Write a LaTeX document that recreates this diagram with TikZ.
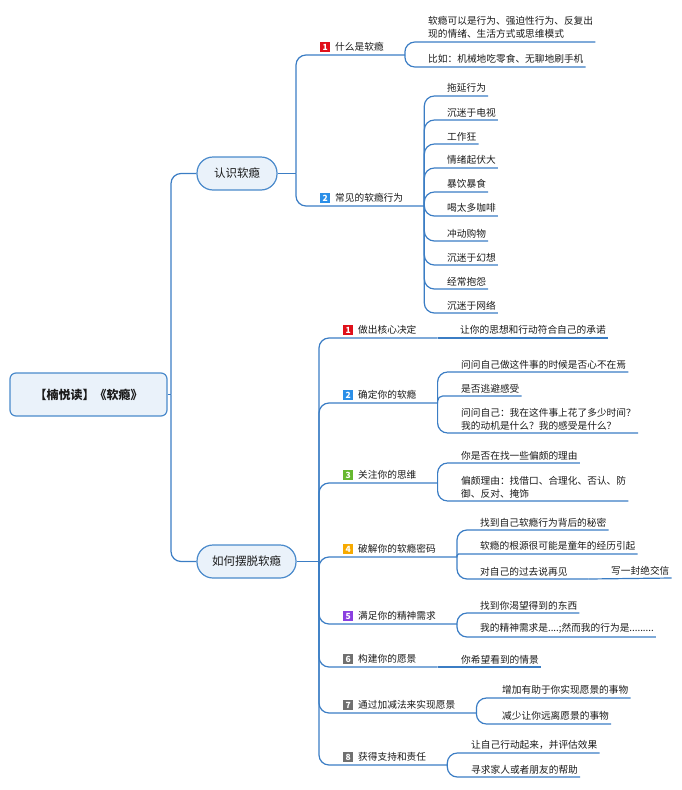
\documentclass[tikz,border=0pt]{standalone}
\usepackage{fontspec}
\setmainfont{Noto Sans CJK SC}
\usepackage{tikz}
\usetikzlibrary{positioning}
\usepackage{xcolor}
\definecolor{wire}{HTML}{3B7DC4}
\definecolor{rim}{HTML}{4A8ACB}
\definecolor{pale}{HTML}{EAF2FA}
\definecolor{ink}{HTML}{1A1A1A}
\definecolor{tagred}{HTML}{E0101A}
\definecolor{tagblue}{HTML}{2B8FE8}
\definecolor{taggreen}{HTML}{66B82F}
\definecolor{tagorange}{HTML}{F7AA00}
\definecolor{tagpurple}{HTML}{8A3FE0}
\definecolor{taggrey}{HTML}{707070}

\newcommand{\numtag}[2]{{\setlength{\fboxsep}{1.5pt}\colorbox{#1}{\makebox[7pt]{\rule{0pt}{7pt}\color{white}\bfseries\fontsize{8.5}{8.5}\selectfont #2}}}\hspace{5pt}}

\begin{document}
\begin{tikzpicture}[
  x=1pt, y=-1pt,
  rootbox/.style={draw=rim, fill=pale, line width=1.2pt, rounded corners=6pt, text=ink,
                  font=\fontsize{12}{14}\selectfont\bfseries, minimum width=157pt, minimum height=43pt},
  mainbox/.style={draw=rim, fill=pale, line width=1.2pt, rounded corners=16pt, text=ink,
                  font=\fontsize{11.5}{14}\selectfont, minimum height=33pt},
  topic/.style={anchor=south west, inner xsep=2pt, inner ysep=3pt, text=ink,
                font=\fontsize{9.7}{13}\selectfont, execute at end node=\hspace{19pt}},
  leaf/.style={anchor=south west, inner xsep=2pt, inner ysep=3pt, text=ink,
               font=\fontsize{9.7}{13}\selectfont},
  hasnext/.style={execute at end node=\hspace{19pt}},
  link/.style={draw=wire, line width=1.2pt, rounded corners=10pt}
]
  \useasboundingbox (0,0) rectangle (682,790);

  % root and main branches
  \node[rootbox] (root) at (88.5,394.5) {【楠悦读】《软瘾》};
  \node[mainbox, minimum width=80pt] (know) at (237,173.5) {认识软瘾};
  \node[mainbox, minimum width=99pt] (escape) at (246.5,561.5) {如何摆脱软瘾};

  \coordinate (hub) at (171,394.5);
  \draw[link] (root.east) -- (hub);
  \draw[link] (hub) |- (know.west);
  \draw[link] (hub) |- (escape.west);

  % 认识软瘾
  \coordinate (hub1) at (296,173.5);
  \node[topic] (whatis) at (318,55) {\numtag{tagred}{1}什么是软瘾};
  \node[topic] (common) at (318,206) {\numtag{tagblue}{2}常见的软瘾行为};
  \draw[link] (know.east) -- (hub1);
  \draw[link] (hub1) |- (whatis.south east);
  \draw[link] (hub1) |- (common.south east);

  \node[leaf, align=left] (define) at (426,42) {软瘾可以是行为、强迫性行为、反复出\\现的情绪、生活方式或思维模式};
  \node[leaf] (example) at (426,67) {比如：机械地吃零食、无聊地刷手机};
  \draw[link] (whatis.south east) |- (define.south east);
  \draw[link] (whatis.south east) |- (example.south east);

  \node[leaf] (delay) at (445,96) {拖延行为};
  \node[leaf] (tv) at (445,120) {沉迷于电视};
  \node[leaf] (work) at (445,144) {工作狂};
  \node[leaf] (mood) at (445,168) {情绪起伏大};
  \node[leaf] (binge) at (445,192) {暴饮暴食};
  \node[leaf] (coffee) at (445,216) {喝太多咖啡};
  \node[leaf] (shop) at (445,241) {冲动购物};
  \node[leaf] (dream) at (445,265) {沉迷于幻想};
  \node[leaf] (moan) at (445,289) {经常抱怨};
  \node[leaf] (web) at (445,313) {沉迷于网络};
  \draw[link] (common.south east) |- (delay.south east);
  \draw[link] (common.south east) |- (tv.south east);
  \draw[link] (common.south east) |- (work.south east);
  \draw[link] (common.south east) |- (mood.south east);
  \draw[link] (common.south east) |- (binge.south east);
  \draw[link] (common.south east) |- (coffee.south east);
  \draw[link] (common.south east) |- (shop.south east);
  \draw[link] (common.south east) |- (dream.south east);
  \draw[link] (common.south east) |- (moan.south east);
  \draw[link] (common.south east) |- (web.south east);

  % 如何摆脱软瘾
  \coordinate (hub2) at (319,561.5);
  \node[topic] (decide) at (341,338) {\numtag{tagred}{1}做出核心决定};
  \node[topic] (identify) at (341,403) {\numtag{tagblue}{2}确定你的软瘾};
  \node[topic] (watch) at (341,483) {\numtag{taggreen}{3}关注你的思维};
  \node[topic] (decode) at (341,557) {\numtag{tagorange}{4}破解你的软瘾密码};
  \node[topic] (satisfy) at (341,624) {\numtag{tagpurple}{5}满足你的精神需求};
  \node[topic] (vision) at (341,667) {\numtag{taggrey}{6}构建你的愿景};
  \node[topic] (addsub) at (341,713) {\numtag{taggrey}{7}通过加减法来实现愿景};
  \node[topic] (support) at (341,765) {\numtag{taggrey}{8}获得支持和责任};
  \draw[link] (escape.east) -- (hub2);
  \draw[link] (hub2) |- (decide.south east);
  \draw[link] (hub2) |- (identify.south east);
  \draw[link] (hub2) |- (watch.south east);
  \draw[link] (hub2) |- (decode.south east);
  \draw[link] (hub2) |- (satisfy.south east);
  \draw[link] (hub2) |- (vision.south east);
  \draw[link] (hub2) |- (addsub.south east);
  \draw[link] (hub2) |- (support.south east);

  \node[leaf] (commit) at (458,338) {让你的思想和行动符合自己的承诺};
  \draw[link] (decide.south east) -- (commit.south east);

  \node[leaf] (absent) at (459,372) {问问自己做这件事的时候是否心不在焉};
  \node[leaf] (avoid) at (459,396) {是否逃避感受};
  \node[leaf, align=left] (askself) at (459,433) {问问自己：我在这件事上花了多少时间？\\我的动机是什么？我的感受是什么？};
  \draw[link] (identify.south east) |- (absent.south east);
  \draw[link, rounded corners=5pt] (identify.south east) |- (avoid.south east);
  \draw[link] (identify.south east) |- (askself.south east);

  \node[leaf] (excuse) at (459,463) {你是否在找一些偏颇的理由};
  \node[leaf, align=left] (reasons) at (459,501) {偏颇理由：找借口、合理化、否认、防\\御、反对、掩饰};
  \draw[link] (watch.south east) |- (excuse.south east);
  \draw[link] (watch.south east) |- (reasons.south east);

  \node[leaf] (secret) at (478,530) {找到自己软瘾行为背后的秘密};
  \node[leaf] (origin) at (478,554) {软瘾的根源很可能是童年的经历引起};
  \node[leaf, hasnext] (farewell) at (478,579) {对自己的过去说再见};
  \node[leaf] (letter) at (609,578) {写一封绝交信};
  \draw[link] (decode.south east) |- (secret.south east);
  \draw[link, rounded corners=1.5pt] (decode.south east) |- (origin.south east);
  \draw[link] (decode.south east) |- (farewell.south east);
  \draw[link] (farewell.south east) -- (letter.south east);

  \node[leaf] (desire) at (478,613) {找到你渴望得到的东西};
  \node[leaf] (needs) at (478,637) {我的精神需求是....;然而我的行为是.........};
  \draw[link] (satisfy.south east) |- (desire.south east);
  \draw[link] (satisfy.south east) |- (needs.south east);

  \node[leaf] (scene) at (459,667) {你希望看到的情景};
  \draw[link] (vision.south east) -- (scene.south east);

  \node[leaf] (more) at (500,698) {增加有助于你实现愿景的事物};
  \node[leaf] (less) at (500,724) {减少让你远离愿景的事物};
  \draw[link] (addsub.south east) |- (more.south east);
  \draw[link] (addsub.south east) |- (less.south east);

  \node[leaf] (act) at (469,753) {让自己行动起来，并评估效果};
  \node[leaf] (help) at (469,777) {寻求家人或者朋友的帮助};
  \draw[link] (support.south east) |- (act.south east);
  \draw[link] (support.south east) |- (help.south east);
\end{tikzpicture}
\end{document}
